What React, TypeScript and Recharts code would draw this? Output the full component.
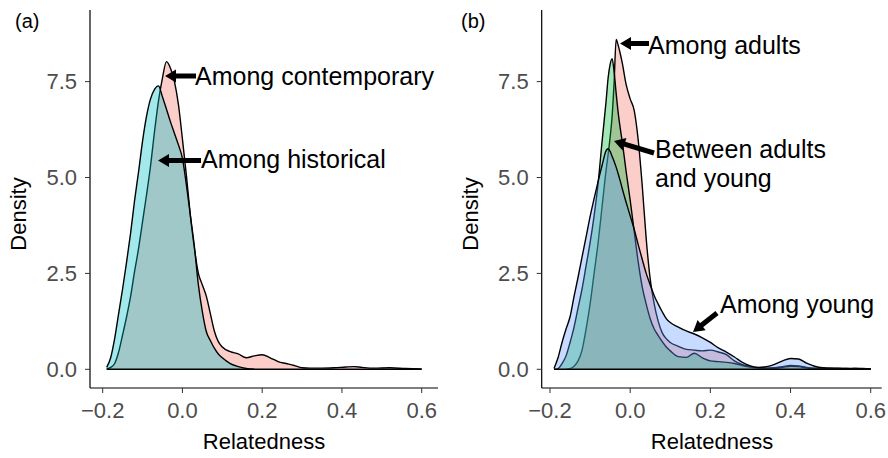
import React from 'react'
import { AreaChart, Area, XAxis, YAxis, ReferenceLine } from 'recharts'

const FONT = '"Liberation Sans", Arial, Helvetica, sans-serif'

// panel (a): contemporary vs historical
const relA = [
  -0.19, -0.18, -0.17, -0.16, -0.15, -0.14, -0.13, -0.12, -0.11, -0.1,
  -0.09, -0.08, -0.07, -0.06, -0.05, -0.04, -0.03, -0.02, -0.01, 0,
  0.01, 0.02, 0.03, 0.04, 0.05, 0.06, 0.07, 0.08, 0.09, 0.1,
  0.12, 0.14, 0.16, 0.18, 0.2, 0.22, 0.24, 0.26, 0.28, 0.3,
  0.32, 0.35, 0.38, 0.41, 0.43, 0.45, 0.48, 0.52, 0.56, 0.6,
]
const contemporary = [
  0.01, 0.05, 0.15, 0.45, 0.9, 1.37, 1.9, 2.55, 3.15, 3.85,
  4.55, 5.3, 6.2, 7.0, 7.6, 8.02, 7.85, 7.5, 6.9, 6.0,
  5.05, 4.0, 3.15, 2.5, 2.2, 1.9, 1.45, 1.0, 0.72, 0.58,
  0.46, 0.4, 0.3, 0.35, 0.38, 0.3, 0.2, 0.15, 0.1, 0.04,
  0.03, 0.03, 0.04, 0.06, 0.07, 0.05, 0.03, 0.04, 0.02, 0.01,
]
const historical = [
  0.05, 0.3, 0.8, 1.45, 2.1, 2.8, 3.55, 4.4, 5.15, 5.95,
  6.6, 7.05, 7.3, 7.39, 7.1, 6.78, 6.45, 6.15, 5.85, 5.5,
  4.8, 4.0, 3.2, 2.2, 1.5, 0.98, 0.75, 0.55, 0.4, 0.3,
  0.15, 0.07, 0.02, 0, null, null, null, null, null, null,
  null, null, null, null, null, null, null, null, null, null,
]

// panel (b): adults / between / young
const relB = [
  -0.19, -0.18, -0.17, -0.16, -0.15, -0.14, -0.13, -0.12, -0.11, -0.1,
  -0.09, -0.08, -0.07, -0.06,
  -0.055, -0.05, -0.045, -0.04, -0.035, -0.03, -0.025, -0.02,
  -0.01, 0, 0.01, 0.02, 0.03, 0.04, 0.05, 0.06, 0.07, 0.08, 0.09, 0.1,
  0.12, 0.14, 0.16, 0.18, 0.2, 0.22, 0.24, 0.26, 0.28, 0.3,
  0.32, 0.34, 0.36, 0.38, 0.4, 0.42, 0.44, 0.46, 0.48, 0.5,
  0.52, 0.54, 0.56, 0.58, 0.6,
]
const amongAdults = [
  null, null, null, 0, 0.02, 0.08, 0.22, 0.5, 1.05, 1.7,
  2.5, 3.3, 4.25, 5.2,
  5.6, 6.05, 6.6, 7.5, 8.6, 8.45, 8.24, 8.0,
  7.42, 7.05, 6.75, 5.98, 4.8, 3.4, 2.35, 1.7, 1.25, 0.95, 0.8, 0.7,
  0.6, 0.52, 0.5, 0.48, 0.5, 0.45, 0.38, 0.22, 0.12, 0.07,
  0.04, 0.03, 0.04, 0.07, 0.1, 0.09, 0.05, 0.03, 0.02, 0.03,
  0.02, 0.02, 0.01, 0.01, 0.01,
]
const betweenAdultsYoung = [
  0, 0.02, 0.15, 0.35, 0.7, 1.1, 1.6, 2.1, 2.7, 3.3,
  4.0, 4.85, 5.95, 7.0,
  7.6, 7.95, 8.1, 7.75, 7.2, 6.7, 6.3, 5.95,
  5.15, 4.41, 3.6, 2.8, 2.15, 1.7, 1.32, 1.05, 0.88, 0.72, 0.58, 0.48,
  0.33, 0.31, 0.42, 0.3, 0.22, 0.2, 0.18, 0.15, 0.1, 0.06,
  0.04, 0.03, 0.03, 0.05, 0.08, 0.07, 0.04, 0.02, 0.02, 0.01,
  0.01, 0.01, 0.01, 0.01, 0.01,
]
const amongYoung = [
  0.02, 0.3, 0.7, 1.05, 1.37, 1.9, 2.4, 2.93, 3.45, 3.98,
  4.45, 4.9, 5.32, 5.7,
  5.75, 5.68, 5.55, 5.42, 5.27, 5.1, 4.92, 4.72,
  4.35, 4.0, 3.65, 3.25, 2.87, 2.5, 2.2, 1.92, 1.7, 1.5, 1.32, 1.22,
  1.1, 1.0, 0.92, 0.82, 0.7, 0.56, 0.45, 0.32, 0.18, 0.09,
  0.05, 0.07, 0.13, 0.22, 0.28, 0.27, 0.16, 0.08, 0.04, 0.03,
  0.03, 0.02, 0.03, 0.02, 0.01,
]

const xTicks = [-0.2, 0, 0.2, 0.4, 0.6]
const yTicks = [0, 2.5, 5, 7.5]
const yDomain: [number, number] = [-0.4875, 9.367]

const dataA = relA.map((x, i) => ({ x, contemporary: contemporary[i], historical: historical[i] }))
const dataB = relB.map((x, i) => ({
  x,
  adults: amongAdults[i],
  between: betweenAdultsYoung[i],
  young: amongYoung[i],
}))

const fmt = (v: number) => v.toFixed(1).replace('-', '\u2212')

const tickStyle = { fontSize: 22, fill: '#4d4d4d', fontFamily: FONT }

type Series = { key: string; fill: string }

function Panel({ data, series, xs, xDomain, left, marginLeft, marginRight }: {
  data: any[]
  series: Series[]
  xs: number[]
  xDomain: [number, number]
  left: number
  marginLeft: number
  marginRight: number
}) {
  // density outlines are closed along the zero line, like ggplot's full outline
  const x0 = xs[0]
  const x1 = xs[xs.length - 1]
  return (
    <div style={{ position: 'absolute', left, top: 0 }}>
      <AreaChart
        width={444}
        height={458}
        data={data}
        margin={{ top: 10, right: marginRight, bottom: 40, left: marginLeft }}
      >
        <XAxis
          dataKey="x"
          type="number"
          domain={xDomain}
          allowDataOverflow
          ticks={xTicks}
          interval={0}
          tickFormatter={fmt}
          height={30}
          tickSize={5}
          tickMargin={9}
          tick={tickStyle}
          tickLine={{ stroke: '#333' }}
          axisLine={{ stroke: '#000', strokeWidth: 1.2 }}
        />
        <YAxis
          type="number"
          domain={yDomain}
          allowDataOverflow
          ticks={yTicks}
          interval={0}
          tickFormatter={fmt}
          width={60}
          tickSize={5}
          tickMargin={8}
          tick={tickStyle}
          tickLine={{ stroke: '#333' }}
          axisLine={{ stroke: '#000', strokeWidth: 1.2 }}
        />
        {series.map((s) => (
          <Area
            key={s.key}
            type="monotone"
            dataKey={s.key}
            stroke="#000"
            strokeWidth={1.4}
            fill={s.fill}
            fillOpacity={0.36}
            baseValue={0}
            dot={false}
            activeDot={false}
            isAnimationActive={false}
          />
        ))}
        <ReferenceLine
          segment={[{ x: x0, y: 0 }, { x: x1, y: 0 }]}
          stroke="#000"
          strokeWidth={1.4}
        />
      </AreaChart>
    </div>
  )
}

function Arrow({ from, to }: { from: [number, number]; to: [number, number] }) {
  const [x1, y1] = from
  const [x2, y2] = to
  const len = Math.hypot(x2 - x1, y2 - y1)
  const ux = (x2 - x1) / len
  const uy = (y2 - y1) / len
  const headL = 11
  const headW = 6.5
  const bx = x2 - ux * headL
  const by = y2 - uy * headL
  return (
    <g>
      <line x1={x1} y1={y1} x2={bx + ux} y2={by + uy} stroke="#000" strokeWidth={5} />
      <polygon
        points={`${x2},${y2} ${bx - uy * headW},${by + ux * headW} ${bx + uy * headW},${by - ux * headW}`}
        fill="#000"
      />
    </g>
  )
}

export default function App() {
  const note = { fontSize: 25, fontFamily: FONT, fill: '#000' }
  const title = { fontSize: 22, fontFamily: FONT, fill: '#000' }
  return (
    <div style={{ position: 'absolute', left: 0, top: 0, width: 888, height: 458, background: '#fff' }}>
      <Panel
        data={dataA}
        xs={relA}
        series={[
          { key: 'contemporary', fill: '#F8766D' },
          { key: 'historical', fill: '#00BFC4' },
        ]}
        xDomain={[-0.2318, 0.6409]}
        left={0}
        marginLeft={30}
        marginRight={6}
      />
      <Panel
        data={dataB}
        xs={relB}
        series={[
          { key: 'adults', fill: '#F8766D' },
          { key: 'between', fill: '#00BA38' },
          { key: 'young', fill: '#619CFF' },
        ]}
        xDomain={[-0.2207, 0.6274]}
        left={444}
        marginLeft={37.7}
        marginRight={6.3}
      />
      <svg width={888} height={458} style={{ position: 'absolute', left: 0, top: 0, pointerEvents: 'none' }}>
        <text x={15} y={28} fontSize={20} fontFamily={FONT}>(a)</text>
        <text x={461} y={28} fontSize={20} fontFamily={FONT}>(b)</text>

        <text x={264} y={449} textAnchor="middle" {...title}>Relatedness</text>
        <text x={712} y={449} textAnchor="middle" {...title}>Relatedness</text>
        <text transform="translate(26,214) rotate(-90)" textAnchor="middle" {...title}>Density</text>
        <text transform="translate(478,214) rotate(-90)" textAnchor="middle" {...title}>Density</text>

        <Arrow from={[196, 76]} to={[165, 76]} />
        <text x={195} y={85} {...note}>Among contemporary</text>
        <Arrow from={[201, 160.5]} to={[158, 160.5]} />
        <text x={201} y={168} {...note}>Among historical</text>

        <Arrow from={[649, 43.5]} to={[620, 43.5]} />
        <text x={648} y={54} {...note}>Among adults</text>
        <Arrow from={[654, 153]} to={[614, 141]} />
        <text x={655} y={158} {...note}>Between adults</text>
        <text x={655} y={187} {...note}>and young</text>
        <Arrow from={[717, 313]} to={[693, 332]} />
        <text x={720} y={313} {...note}>Among young</text>
      </svg>
    </div>
  )
}
